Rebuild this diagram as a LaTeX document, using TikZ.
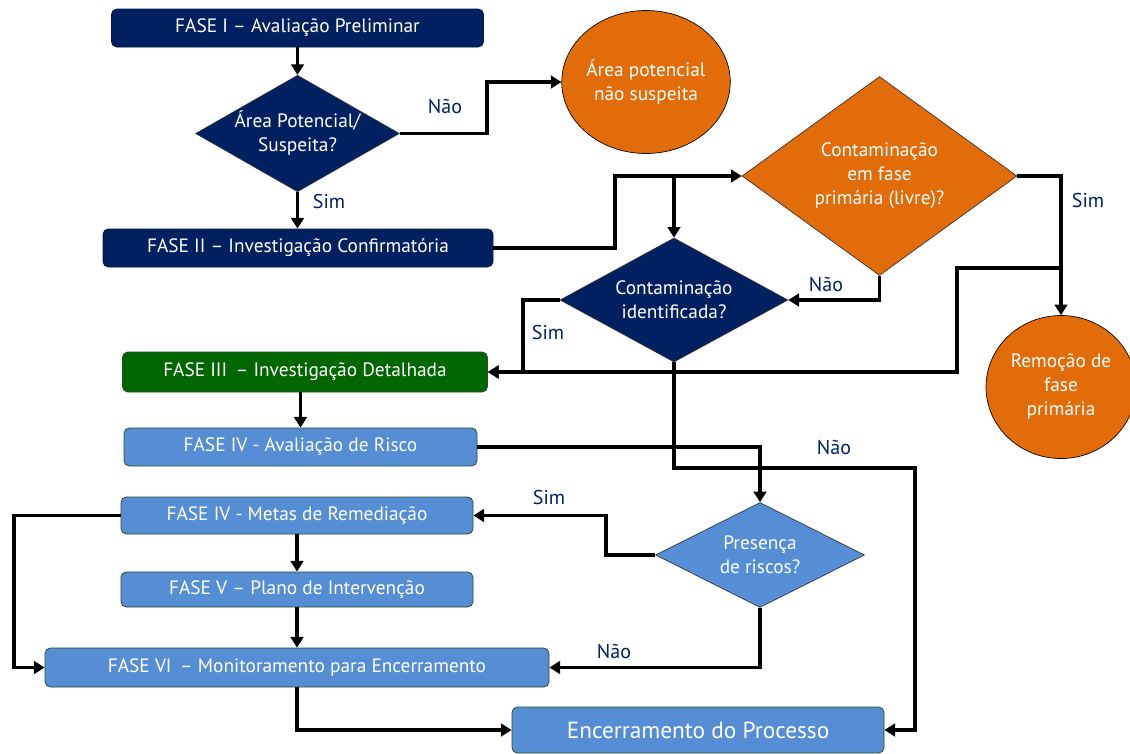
\documentclass[tikz,border=0pt]{standalone}
\usepackage{fontspec}
\setmainfont{PT Sans}
\usetikzlibrary{arrows.meta,shapes.geometric}

\definecolor{navy}{RGB}{0,32,96}
\definecolor{laranja}{RGB}{227,108,10}
\definecolor{verde}{RGB}{0,102,0}
\definecolor{azul}{RGB}{85,142,213}
\definecolor{borda}{RGB}{40,80,40}

\begin{document}
\begin{tikzpicture}[x=0.75pt, y=-0.75pt, >={Triangle[length=8pt,width=9.5pt]}, every node/.style={font=\fontsize{14.5}{18}\selectfont, text=white}, wd/.style={minimum width=#1*0.75pt}, ht/.style={minimum height=#1*0.75pt}, fase/.style={draw=borda, line width=0.6pt, rounded corners=4pt, inner sep=0pt, ht=38}, decision/.style={diamond, draw=black!80, line width=0.5pt, inner sep=0pt, align=center}, result/.style={ellipse, draw=black, line width=0.5pt, fill=laranja, inner sep=0pt, align=center}, flow/.style={->, line width=2.9pt}, lbl/.style={text=navy, font=\fontsize{15}{18}\selectfont}]
\useasboundingbox (0,0) rectangle (1130,753);
\node[fase,fill=navy,draw=navy!70!black,wd=372] (fase1) at (297.5,28) {FASE I – Avaliação Preliminar};
\node[decision,fill=navy,wd=201,ht=115,shape aspect=1.75] (suspeita) at (297.5,133.5) {Área Potencial/\\Suspeita?};
\node[result,wd=154,ht=143] (naosusp) at (646,82) {Área potencial\\não suspeita};
\node[fase,fill=navy,draw=navy!70!black,wd=390] (fase2) at (298,248) {FASE II – Investigação Confirmatória};
\node[decision,fill=laranja,wd=275,ht=199,shape aspect=1.38] (livre) at (879.5,176) {Contaminação\\em fase\\primária (livre)?};
\node[decision,fill=navy,wd=228,ht=124,shape aspect=1.84] (identif) at (674,300) {Contaminação\\identificada?};
\node[result,wd=150,ht=143] (remocao) at (1061,387) {Remoção de\\fase\\primária};
\node[fase,fill=verde,wd=365,ht=40] (fase3) at (305,372) {FASE III\, – Investigação Detalhada};
\node[fase,fill=azul,wd=353] (fase4a) at (300.5,447) {FASE IV - Avaliação de Risco};
\node[fase,fill=azul,wd=352,ht=37] (fase4b) at (297,515.5) {FASE IV - Metas de Remediação};
\node[fase,fill=azul,wd=352,ht=35] (fase5) at (297,589.5) {FASE V – Plano de Intervenção};
\node[fase,fill=azul,wd=504,ht=39] (fase6) at (297,667.5) {FASE VI\, – Monitoramento para Encerramento};
\node[decision,fill=azul,wd=209,ht=105,shape aspect=2] (riscos) at (760,555) {Presença\\de riscos?};
\node[fase,fill=azul,wd=372,ht=46,font=\fontsize{17.5}{20}\selectfont] (fim) at (698,730) {Encerramento do Processo};
\node[lbl] (nao1) at (445,106) {Não};
\node[lbl] (sim1) at (329,201) {Sim};
\node[lbl] (nao2) at (826,284) {Não};
\node[lbl] (sim2) at (1088,200) {Sim};
\node[lbl] (sim3) at (548,332) {Sim};
\node[lbl] (nao3) at (834,447) {Não};
\node[lbl] (sim4) at (549,497) {Sim};
\node[lbl] (nao4) at (614,651) {Não};
\draw[flow] (fase1) -- (suspeita);
\draw[flow] (suspeita.east) -- ++(87,0) |- (naosusp.west);
\draw[flow] (suspeita.south) -- (suspeita.south |- fase2.north);
\draw[flow] (fase2.east) -- ++(122,0) |- (livre.west);
\draw[flow] (identif.north |- livre.west) -- (identif.north);
\draw[flow] (livre.south) |- (identif.east);
\draw[flow] (livre.east) -| (remocao.north);
\draw[flow] (remocao.north) ++(0,-47) -- ++(-104,0) |- (fase3.east);
\draw[flow] (identif.west) -- ++(-37,0) |- (fase3.east);
\draw[flow] (identif.south) -- ++(0,106) -- ++(241,0) |- (fim.east);
\draw[flow] (fase4a.north |- fase3.south) -- (fase4a.north);
\draw[flow] (fase4a.east) -| (riscos.north);
\draw[flow] (riscos.west) -- ++(-49,0) |- (fase4b.east);
\draw[flow] (riscos.south) |- (fase6.east);
\draw[flow] (fase4b) -- (fase5);
\draw[flow] (fase5) -- (fase6);
\draw[flow] (fase4b.west) -- ++(-107,0) |- (fase6.west);
\draw[flow] (fase6.south) |- (fim.west);
\end{tikzpicture}
\end{document}
